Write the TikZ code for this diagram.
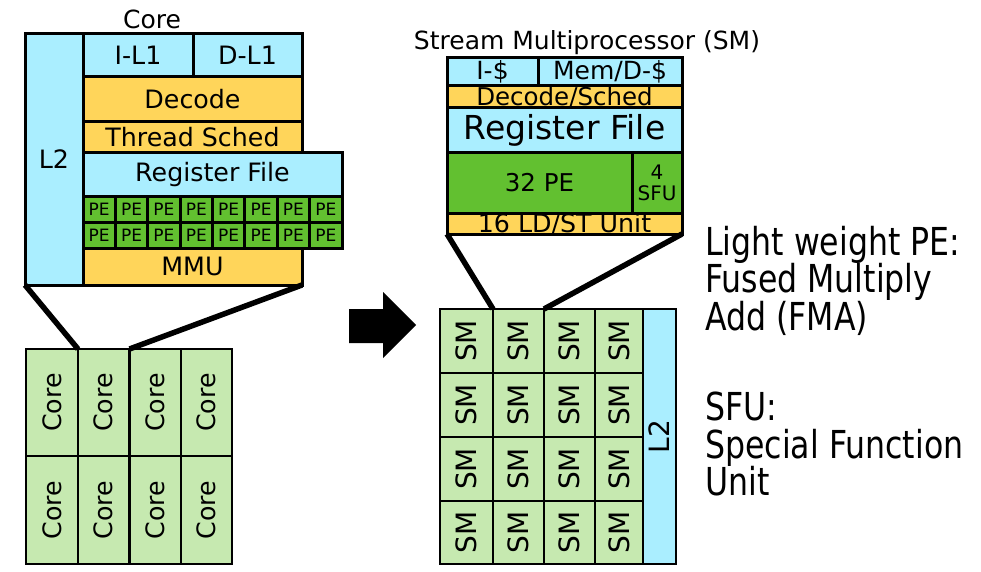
\documentclass[tikz,border=0pt]{standalone}
\usepackage{fontspec}
\setmainfont{DejaVu Sans}
\newfontfamily\rfont[FakeStretch=0.82]{DejaVu Sans}
\definecolor{cyanb}{HTML}{AAEEFF}
\definecolor{yelb}{HTML}{FFD55A}
\definecolor{peg}{HTML}{62C030}
\definecolor{ltg}{HTML}{C6E9B0}
\newcommand{\blk}[7][]{\node[blkst,#1,minimum width={(#4-#2)*1pt},minimum height={(#5-#3)*1pt}] (#6) at ({(#2+#4)/2},{(#3+#5)/2}) {#7};}
\tikzset{
  blkst/.style={draw=black,line width=3pt,inner sep=0pt,outer sep=0pt,rectangle,font=\fontsize{25.3}{29}\selectfont},
  conn/.style={line width=5.5pt,black},
  title/.style={inner sep=0pt,font=\fontsize{25}{29}\selectfont},
  rtext/.style={inner sep=0pt,align=left,font=\rfont\fontsize{38.5}{37.3}\selectfont}
}
\begin{document}
\begin{tikzpicture}[x=1pt,y=-1pt]
\useasboundingbox (0,0) rectangle (981,572);
% ---- Core detail ----
\node[title] (coretitle) at (152,19) {Core};
\blk[fill=cyanb]{25}{34}{83}{285}{cL2}{L2}
\blk[fill=cyanb]{83}{34}{193}{77}{cIL1}{I-L1}
\blk[fill=cyanb]{193}{34}{302}{77}{cDL1}{D-L1}
\blk[fill=yelb]{83}{77}{302}{122}{cDec}{Decode}
\blk[fill=yelb]{83}{122}{302}{153}{cTS}{Thread Sched}
\blk[fill=cyanb]{83}{153}{342}{196}{cRF}{Register File}
\foreach \r/\ya/\yb in {1/196/222,2/222/248}{
  \foreach \c in {0,...,7}{
    \pgfmathsetmacro{\xa}{83+\c*32.375}
    \pgfmathsetmacro{\xb}{83+(\c+1)*32.375}
    \blk[fill=peg,font=\fontsize{17}{19}\selectfont]{\xa}{\ya}{\xb}{\yb}{pe\r\c}{PE}
  }
}
\blk[fill=yelb]{83}{248}{302}{285}{cMMU}{MMU}
% ---- Core grid ----
\foreach \r/\ya/\yb in {1/349/456,2/456/564}{
  \foreach \c/\xa/\xb in {1/26/78,2/78/129.5,3/129.5/181,4/181/232}{
    \blk[fill=ltg,line width=2.8pt]{\xa}{\ya}{\xb}{\yb}{g\r\c}{\rotatebox{90}{Core}}
  }
}
\draw[conn] (cL2.south west) -- (g11.north east);
\draw[conn] (cMMU.south east) -- (g12.north east);
% ---- arrow ----
\fill[black] (349,309) -- (383,309) -- (383,292) -- (416,325) -- (383,358) -- (383,343) -- (349,343) -- cycle;
% ---- SM detail ----
\node[title,font=\fontsize{25}{28}\selectfont] (smtitle) at (587,43) {Stream Multiprocessor (SM)};
\blk[fill=cyanb,font=\fontsize{25}{28}\selectfont]{447}{58}{538}{86}{sI}{I-\$}
\blk[fill=cyanb,font=\fontsize{25}{28}\selectfont]{538}{58}{682}{86}{sM}{Mem/D-\$}
\blk[fill=yelb,font=\fontsize{24.5}{26}\selectfont,text height=17.5pt,text depth=0pt]{447}{86}{682}{108}{sDec}{Decode/Sched}
\blk[fill=cyanb,font=\fontsize{33}{36}\selectfont]{447}{108}{682}{153}{sRF}{Register File}
\blk[fill=peg,font=\fontsize{24.5}{26}\selectfont]{447}{153}{632}{213}{sPE}{32 PE}
\blk[fill=peg,align=center,font=\fontsize{20}{21}\selectfont]{632}{153}{682}{213}{sSFU}{4\\SFU}
\blk[fill=yelb,font=\fontsize{25.3}{27}\selectfont,text height=18pt,text depth=0pt]{447}{213}{682}{234}{sLD}{16 LD/ST Unit}
% ---- SM grid ----
\foreach \r/\ya/\yb in {1/309/373,2/373/437,3/437/501,4/501/564}{
  \foreach \c/\xa/\xb in {1/440/493,2/493/544,3/544/595,4/595/643}{
    \blk[fill=ltg,line width=2.8pt,font=\fontsize{28}{30}\selectfont]{\xa}{\ya}{\xb}{\yb}{s\r\c}{\rotatebox{90}{SM}}
  }
}
\blk[fill=cyanb,line width=2.8pt,font=\fontsize{28}{30}\selectfont]{643}{309}{676}{564}{sL2}{\rotatebox{90}{L2}}
\draw[conn] (sLD.south west) -- (s11.north east);
\draw[conn] (sLD.south east) -- (s12.north east);
% ---- notes ----
\node[rtext,anchor=north west] (fma) at (705,226) {Light weight PE:\\Fused Multiply\\Add (FMA)};
\node[rtext,anchor=north west] (sfu) at (705,392) {SFU:\\Special Function\\Unit};
\end{tikzpicture}
\end{document}
